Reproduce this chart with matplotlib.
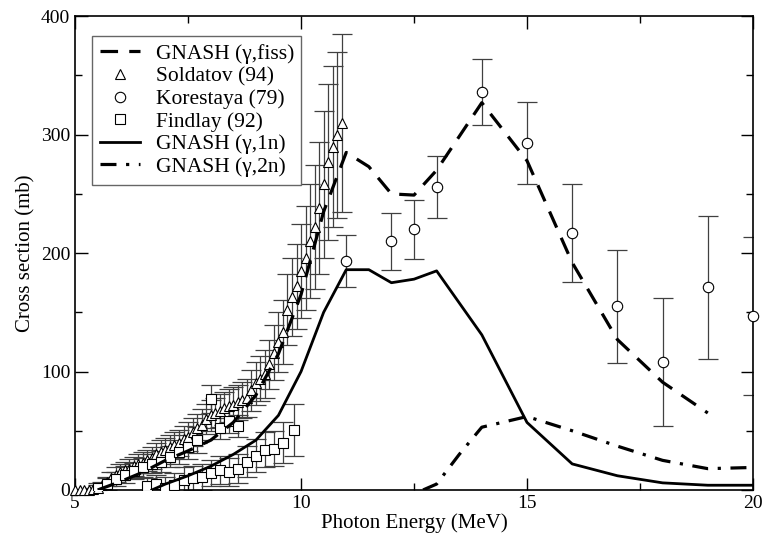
import matplotlib
matplotlib.use("Agg")
import matplotlib.pyplot as plt
import numpy as np

plt.rcParams['font.family'] = ['Liberation Serif', 'DejaVu Serif']

# GNASH calculations
fiss_e = [5.5, 6.0, 6.5, 7.0, 7.5, 8.0, 8.5, 9.0, 9.5, 10.0, 10.5, 11.0, 11.5,
          12.0, 12.5, 13.0, 14.0, 15.0, 16.0, 17.0, 18.0, 19.0]
fiss_xs = [0, 7, 15, 25, 33, 42, 57, 80, 115, 165, 235, 285, 273,
           250, 249, 270, 327, 278, 192, 127, 91, 65]

n1_e = [6.7, 7.0, 7.5, 8.0, 8.5, 9.0, 9.5, 10.0, 10.5, 11.0, 11.5, 12.0, 12.5,
        13.0, 14.0, 15.0, 16.0, 17.0, 18.0, 19.0, 20.0]
n1_xs = [0, 5, 12, 20, 30, 42, 63, 100, 150, 186, 186, 175, 178,
         185, 131, 57, 22, 12, 6, 4, 4]

n2_e = [12.7, 13.0, 13.5, 14.0, 15.0, 16.0, 17.0, 18.0, 19.0, 20.0]
n2_xs = [0, 5, 30, 53, 62, 50, 37, 25, 18, 19]

# Soldatov (94)
sold_e = [5.0, 5.1, 5.2, 5.3, 5.4, 5.5, 5.6, 5.7, 5.8, 5.9,
          6.0, 6.1, 6.2, 6.3, 6.4, 6.5, 6.6, 6.7, 6.8, 6.9,
          7.0, 7.1, 7.2, 7.3, 7.4, 7.5, 7.6, 7.7, 7.8, 7.9,
          8.0, 8.1, 8.2, 8.3, 8.4, 8.5, 8.6, 8.7, 8.8, 8.9,
          9.0, 9.1, 9.2, 9.3, 9.4, 9.5, 9.6, 9.7, 9.8, 9.9,
          10.0, 10.1, 10.2, 10.3, 10.4, 10.5, 10.6, 10.7, 10.8, 10.9]
sold_xs = [0, 0, 0, 0, 1, 2, 4, 7, 10, 13,
           15, 17, 18, 20, 22, 23, 25, 27, 30, 32,
           34, 36, 38, 40, 43, 45, 49, 52, 55, 60,
           63, 65, 67, 69, 71, 72, 74, 76, 78, 84,
           90, 94, 98, 106, 116, 125, 133, 152, 163, 172,
           185, 196, 210, 222, 238, 258, 277, 290, 300, 310]
sold_err = [0, 0, 0, 0, 1, 2, 3, 4, 5, 6,
            7, 7, 8, 8, 8, 9, 9, 9, 10, 10,
            10, 10, 11, 11, 11, 12, 12, 12, 13, 13,
            13, 13, 14, 14, 14, 15, 15, 15, 16, 17,
            18, 19, 20, 21, 23, 25, 27, 30, 33, 36,
            40, 44, 48, 52, 56, 62, 66, 68, 70, 75]

# Korestaya (79)
kor_e = [11.0, 12.0, 12.5, 13.0, 14.0, 15.0, 16.0, 17.0, 18.0, 19.0, 20.0]
kor_xs = [193, 210, 220, 256, 336, 293, 217, 155, 108, 171, 147]
kor_err = [22, 24, 25, 26, 28, 35, 41, 48, 54, 60, 67]

# Findlay (92)
find_e = [5.5, 5.7, 5.9, 6.1, 6.3, 6.5, 6.7, 6.9, 7.1, 7.3, 7.5, 7.7,
          8.0, 8.2, 8.4, 8.6,
          6.6, 6.8, 7.0, 7.2, 7.4, 7.6, 7.8, 8.0, 8.2, 8.4, 8.6,
          8.8, 9.0, 9.2, 9.4, 9.6, 9.85]
find_xs = [2, 5, 9, 13, 16, 19, 22, 24, 28, 32, 36, 42,
           77, 52, 58, 54,
           3, 5, 2, 4, 8, 10, 11, 14, 17, 15, 18,
           24, 29, 34, 35, 40, 51]
find_err = [4, 5, 6, 7, 7, 8, 8, 9, 9, 10, 10, 11,
            12, 9, 10, 9,
            7, 8, 9, 10, 11, 10, 11, 11, 12, 12, 12,
            13, 14, 15, 15, 17, 22]

fig = plt.figure(figsize=(7.66, 5.42), dpi=100)
ax = fig.add_axes([0.098, 0.096, 0.885, 0.874])

ebar = dict(fmt='none', ecolor='0.25', elinewidth=0.9, capsize=7, capthick=0.9, zorder=2)
mk = dict(linestyle='none', mfc='white', mec='black', mew=0.8, zorder=3)

ax.errorbar(sold_e, sold_xs, yerr=sold_err, **ebar)
ax.errorbar(find_e, find_xs, yerr=find_err, **ebar)
ax.errorbar(kor_e, kor_xs, yerr=kor_err, **ebar)

ax.plot(sold_e, sold_xs, marker='^', ms=7, clip_on=False, **mk)
ax.plot(kor_e, kor_xs, marker='o', ms=7.5, clip_on=False, **mk)
ax.plot(find_e, find_xs, marker='s', ms=6.5, **mk)

h_fiss, = ax.plot(fiss_e, fiss_xs, color='black', lw=2.3, dashes=(5.5, 3.5), zorder=4)
h_1n, = ax.plot(n1_e, n1_xs, color='black', lw=2.0, zorder=4)
h_2n, = ax.plot(n2_e, n2_xs, color='black', lw=2.3, dashes=(5, 3, 1, 3), zorder=4)

# empty handles for the marker entries of the legend
h_sold, = ax.plot([], [], marker='^', ms=7, **mk)
h_kor, = ax.plot([], [], marker='o', ms=7.5, **mk)
h_find, = ax.plot([], [], marker='s', ms=6.5, **mk)

ax.set_xlim(5, 20)
ax.set_ylim(0, 400)
ax.set_xticks([5, 10, 15, 20])
ax.set_xticks([7.5, 12.5, 17.5], minor=True)
ax.set_yticks([0, 100, 200, 300, 400])
ax.set_yticks([50, 150, 250, 350], minor=True)
ax.tick_params(which='both', direction='in', top=True, right=True, labelsize=14, width=1.0)
ax.tick_params(which='major', length=9)
ax.tick_params(which='minor', length=5)
for s in ax.spines.values():
    s.set_linewidth(1.2)

ax.set_xlabel('Photon Energy (MeV)', fontsize=15, labelpad=1)
ax.set_ylabel('Cross section (mb)', fontsize=15, labelpad=4)

leg = ax.legend([h_fiss, h_sold, h_kor, h_find, h_1n, h_2n],
                ['GNASH (γ,fiss)', 'Soldatov (94)', 'Korestaya (79)', 'Findlay (92)',
                 'GNASH (γ,1n)', 'GNASH (γ,2n)'],
                loc='upper left', bbox_to_anchor=(0.025, 0.958), borderaxespad=0,
                fontsize=15.5, handlelength=1.9, handletextpad=0.7, labelspacing=0.12,
                borderpad=0.35, fancybox=False, edgecolor='0.4', framealpha=1)
leg.get_frame().set_linewidth(1.0)
leg.set_zorder(5)

fig.savefig('out.png', dpi=100)
